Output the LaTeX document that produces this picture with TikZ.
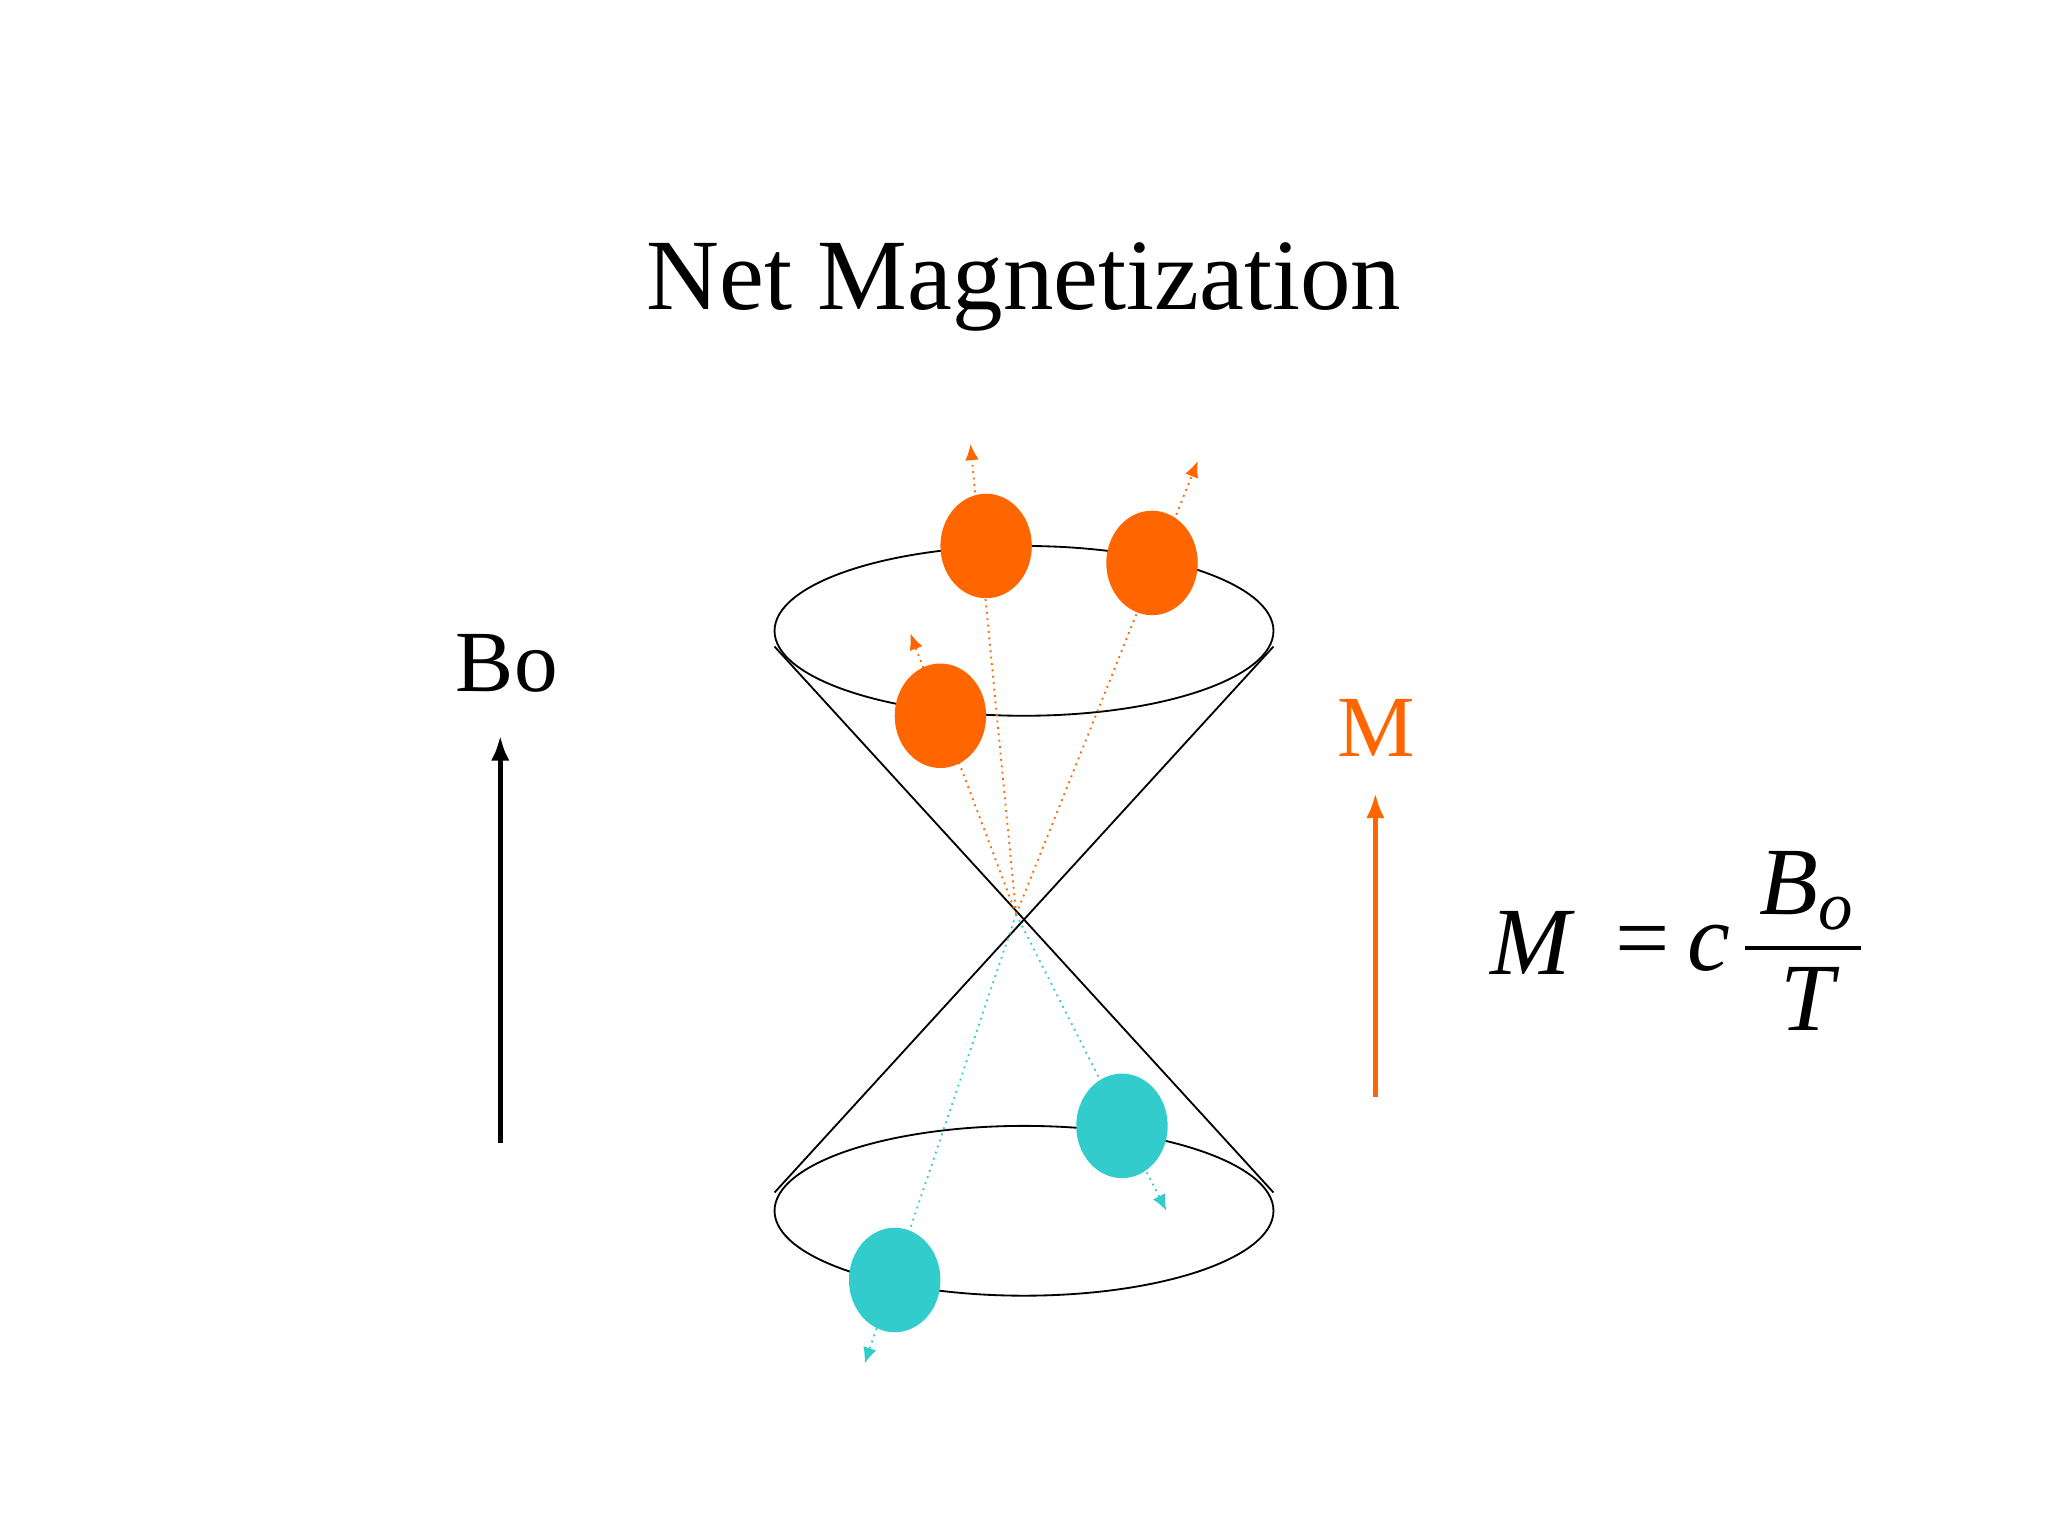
\documentclass[tikz,border=0pt]{standalone}
\usepackage{fontspec}
\setmainfont{Liberation Serif}
\usetikzlibrary{shapes.geometric,arrows.meta}
\definecolor{org}{HTML}{FF6600}
\definecolor{cyn}{HTML}{33CCCC}
\begin{document}
\begin{tikzpicture}[x=0.02cm,y=-0.02cm,
  ball/.style={ellipse,minimum width=70*0.02cm,minimum height=80*0.02cm,inner sep=0},
  spin/.style={dotted,thick,-{Latex[length=7pt,width=6pt]}},
  lbl/.style={font=\fontsize{38}{44}\selectfont},
  eqf/.style={font=\fontsize{42}{48}\selectfont\itshape,inner sep=0}]
\useasboundingbox (0,0) rectangle (1568,1176);
\node[font=\fontsize{44}{50}\selectfont] (title) at (784,220) {Net Magnetization};
% cones
\draw[thick] (784,483) ellipse [x radius=191, y radius=65];
\draw[thick] (784,927) ellipse [x radius=191, y radius=65];
\coordinate (tl) at (593,495); \coordinate (tr) at (975,495);
\coordinate (bl) at (593,913); \coordinate (br) at (975,913);
\draw[thick] (tl) -- (br); \draw[thick] (tr) -- (bl);
\coordinate (c) at (778,700);
% spins
\coordinate (t1) at (743,340); \coordinate (t2) at (917,353); \coordinate (t3) at (697,485);
\coordinate (t4) at (893,927); \coordinate (t5) at (662,1044);
\draw[spin,org] (c) -- (t1);
\draw[spin,org] (c) -- (t2);
\draw[spin,org] (c) -- (t3);
\draw[spin,cyn] (c) -- (t4);
\draw[spin,cyn] (c) -- (t5);
\node[ball,fill=org] (o1) at (755,418) {};
\node[ball,fill=org] (o2) at (882,431) {};
\node[ball,fill=org] (o3) at (720,548) {};
\node[ball,fill=cyn] (c1) at (859,862) {};
\node[ball,fill=cyn] (c2) at (685,980) {};
% Bo
\node[lbl] (bo) at (388,508) {Bo};
\coordinate (b0) at (383,875); \coordinate (b1) at (383,563);
\draw[line width=2.2pt,-{Latex[length=11pt,width=8pt]}] (b0) -- (b1);
% M
\node[lbl,text=org] (m) at (1054,557) {M};
\coordinate (m0) at (1053,840); \coordinate (m1) at (1053,607);
\draw[org,line width=2.2pt,-{Latex[length=11pt,width=8pt]}] (m0) -- (m1);
% formula
\node[eqf] (eM) at (1172,722) {M};
\node[eqf,font=\fontsize{42}{48}\selectfont] (eq) at (1258,726) {=};
\node[eqf] (ec) at (1308,726) {c};
\node[eqf,anchor=base west] (eB) at (1347,700) {B\raisebox{-0.35ex}{\fontsize{30}{34}\selectfont o}};
\node[eqf,anchor=base] (eT) at (1384,789) {T};
\coordinate (f0) at (1336,726); \coordinate (f1) at (1425,726);
\draw[line width=1.6pt] (f0) -- (f1);
\end{tikzpicture}
\end{document}
